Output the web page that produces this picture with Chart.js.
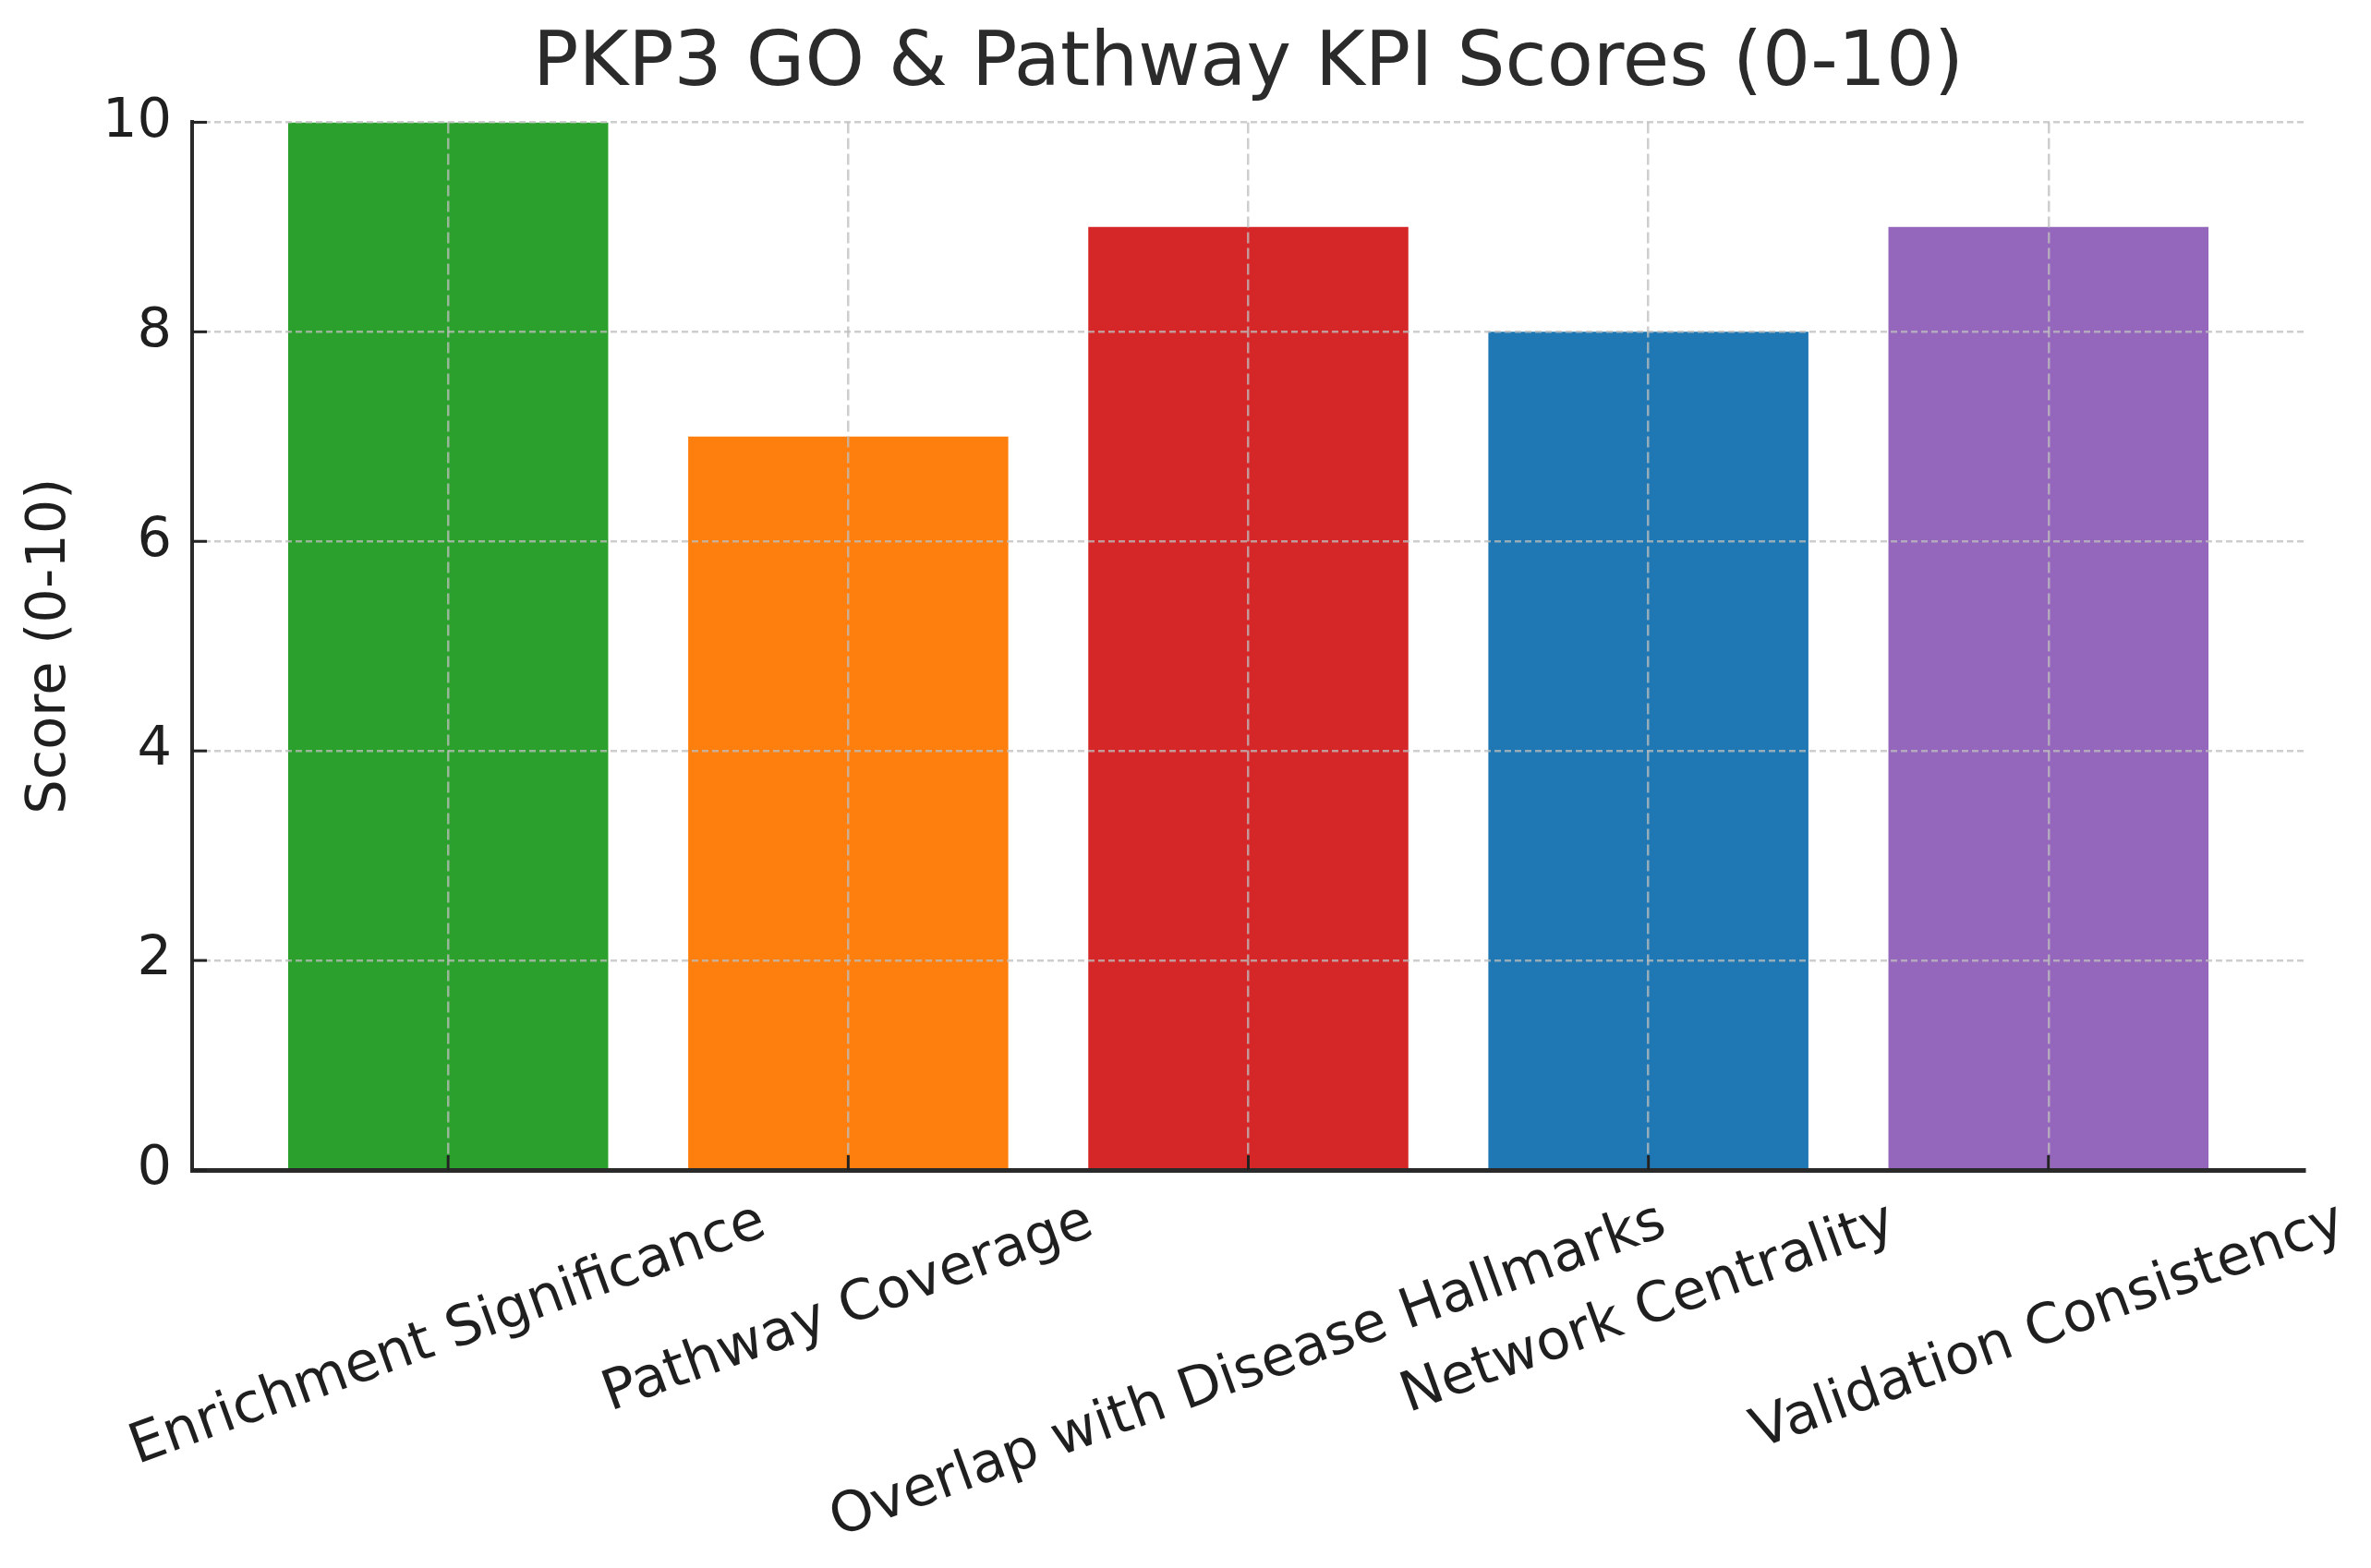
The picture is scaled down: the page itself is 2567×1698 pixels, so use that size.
<!DOCTYPE html>
<html>
<head>
<meta charset="utf-8">
<title>PKP3 GO & Pathway KPI Scores</title>
<script src="https://cdn.jsdelivr.net/npm/chart.js@4.4.1/dist/chart.umd.min.js"></script>
<style>
    html, body { margin: 0; padding: 0; background: #fff; }
    #wrap { width: 2567px; height: 1698px; }
</style>
</head>
<body>
<div id="wrap"><canvas id="kpiChart" width="2567" height="1698"></canvas></div>
<script>
const categories = [
    "Enrichment Significance",
    "Pathway Coverage",
    "Overlap with Disease Hallmarks",
    "Network Centrality",
    "Validation Consistency"
];
const scores = [10, 7, 9, 8, 9];
const barColors = ["#2ca02c", "#ff7f0e", "#d62728", "#1f77b4", "#9467bd"];
const yTicks = [0, 2, 4, 6, 8, 10];

const FONT = "'DejaVu Sans', sans-serif";
const TEXT = "#1f1f1f";
const GRID = "rgba(190,190,190,0.75)";

Chart.defaults.font.family = FONT;

// matplotlib style: inward tick marks + centred rotated category labels
const axisDecor = {
    id: "axisDecor",
    afterDraw(chart) {
        const ctx = chart.ctx;
        const xs = chart.scales.x;
        const ys = chart.scales.y;
        const area = chart.chartArea;

        ctx.save();
        ctx.strokeStyle = "#222";
        ctx.lineWidth = 3;
        categories.forEach((c, i) => {
            const px = xs.getPixelForValue(i);
            ctx.beginPath();
            ctx.moveTo(px, area.bottom);
            ctx.lineTo(px, area.bottom - 16);
            ctx.stroke();
        });
        yTicks.forEach(v => {
            const py = ys.getPixelForValue(v);
            ctx.beginPath();
            ctx.moveTo(area.left, py);
            ctx.lineTo(area.left + 16, py);
            ctx.stroke();
        });

        const size = 60;
        const rot = 20 * Math.PI / 180;
        const h = size * 1.17;
        ctx.font = `${size}px ${FONT}`;
        ctx.fillStyle = TEXT;
        ctx.textAlign = "center";
        ctx.textBaseline = "middle";
        categories.forEach((c, i) => {
            const w = ctx.measureText(c).width;
            const boxH = w * Math.sin(rot) + h * Math.cos(rot);
            const cx = xs.getPixelForValue(i);
            const cy = area.bottom + 22 + boxH / 2;
            ctx.save();
            ctx.translate(cx, cy);
            ctx.rotate(-rot);
            ctx.fillText(c, 0, 0);
            ctx.restore();
        });
        ctx.restore();
    }
};

new Chart(document.getElementById("kpiChart"), {
    type: "bar",
    data: {
        datasets: [{
            data: scores.map((v, i) => ({ x: i, y: v })),
            backgroundColor: barColors,
            borderWidth: 0,
            barPercentage: 1,
            categoryPercentage: 0.8
        }]
    },
    options: {
        responsive: false,
        devicePixelRatio: 1,
        animation: false,
        layout: { padding: { left: 0, right: 72, top: 0, bottom: 0 } },
        plugins: {
            legend: { display: false },
            tooltip: { enabled: false },
            title: {
                display: true,
                text: "PKP3 GO & Pathway KPI Scores (0-10)",
                fullSize: false,
                color: "#2b2b2b",
                font: { size: 82, weight: "normal", family: FONT },
                padding: { top: 22, bottom: 12 }
            }
        },
        scales: {
            x: {
                type: "linear",
                min: -0.64,
                max: 4.64,
                offset: false,
                afterBuildTicks: s => { s.ticks = categories.map((c, i) => ({ value: i })); },
                afterFit: s => { s.height = 1698 - 1267; },
                ticks: { display: false },
                grid: { offset: false, color: GRID, lineWidth: 2.5, drawTicks: false, z: 1 },
                border: { color: "#2a2a2a", width: 5, dash: [12, 5], z: 2 }
            },
            y: {
                min: 0,
                max: 10,
                afterFit: s => { s.width = 208; },
                ticks: {
                    stepSize: 2,
                    padding: 22,
                    color: TEXT,
                    font: { size: 59, family: FONT }
                },
                grid: {
                    color: c => (c.tick && c.tick.value === 0 ? "rgba(0,0,0,0)" : GRID),
                    lineWidth: 2.5,
                    drawTicks: false,
                    z: 1
                },
                border: { color: "#2a2a2a", width: 4, dash: [7, 4], z: 2 },
                title: {
                    display: true,
                    text: "Score (0-10)",
                    color: TEXT,
                    font: { size: 59, family: FONT },
                    padding: { top: 19, bottom: 0 }
                }
            }
        }
    },
    plugins: [axisDecor]
});
</script>
</body>
</html>
